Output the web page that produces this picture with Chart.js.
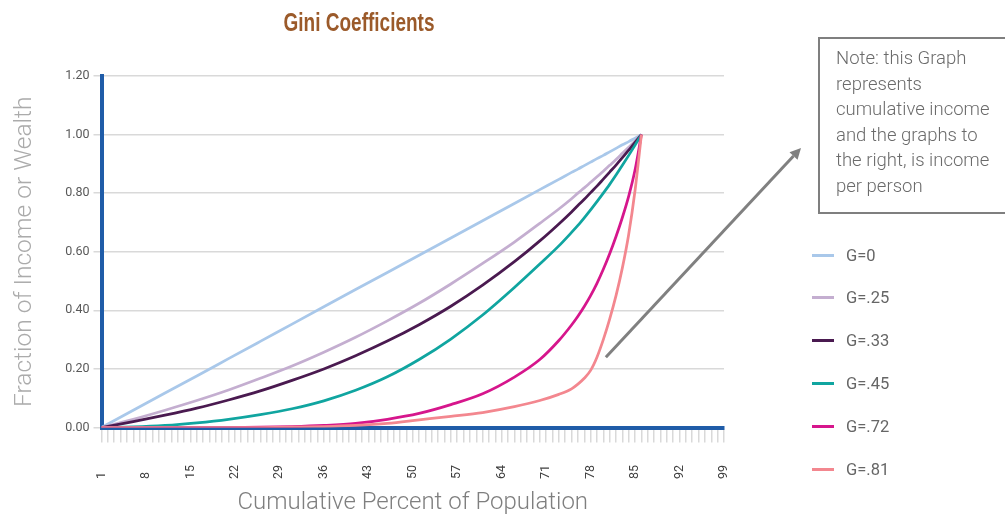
<!DOCTYPE html>
<html>
<head>
<meta charset="utf-8">
<title>Gini Coefficients</title>
<script src="https://cdn.jsdelivr.net/npm/chart.js@4.4.1/dist/chart.umd.min.js"></script>
<style>
  body { margin: 0; background: #fff; }
  #wrap { position: relative; width: 1005px; height: 517px; overflow: hidden; font-family: Roboto, sans-serif; }
  #title { position: absolute; left: 259px; width: 200px; top: 8px; text-align: center; font: bold 25px 'Liberation Sans Narrow', 'Liberation Sans', sans-serif; line-height: 28px; color: #9b5a2a; transform: scaleX(0.76); transform-origin: center; white-space: nowrap; }
  #note { position: absolute; left: 818px; top: 37px; width: 210px; height: 177px; box-sizing: border-box; border: 2px solid #7f7f7f; padding: 7px 0 0 16px; font-weight: 300; font-size: 18.5px; line-height: 25.6px; color: #6b6b6b; white-space: nowrap; }
  #legend { position: absolute; left: 812px; top: 0; }
  .item { position: absolute; left: 0; height: 20px; display: flex; align-items: center; white-space: nowrap; font-size: 16.5px; color: #666; }
  .swatch { width: 22px; height: 3px; margin-right: 12px; }
</style>
</head>
<body>
<div id="wrap">
  <canvas id="gini" width="1005" height="517"></canvas>
  <div id="title">Gini Coefficients</div>
  <div id="note">Note: this Graph<br>represents<br>cumulative income<br>and the graphs to<br>the right, is income<br>per person</div>
  <div id="legend"></div>
</div>
<script>
// x axis: cumulative percent of population, 1..99
const categories = Array.from({ length: 99 }, (_, i) => String(i + 1));
const shownTicks = ['1', '8', '15', '22', '29', '36', '43', '50', '57', '64', '71', '78', '85', '92', '99'];

// points (x = category)
const samplePoints = [1, 6, 11, 16, 21, 26, 31, 36, 41, 46, 51, 56, 61, 66, 70, 73, 75, 76, 77, 78, 79, 80, 81, 82, 83, 84, 85, 86];

const g0  = [0, 0.059, 0.118, 0.176, 0.235, 0.294, 0.353, 0.412, 0.471, 0.529, 0.588, 0.647, 0.706, 0.765, 0.812, 0.847, 0.871, 0.882, 0.894, 0.906, 0.918, 0.929, 0.941, 0.953, 0.965, 0.976, 0.988, 1];
const g25 = [0, 0.028, 0.059, 0.092, 0.128, 0.168, 0.21, 0.257, 0.308, 0.364, 0.424, 0.49, 0.56, 0.633, 0.697, 0.746, 0.781, 0.8, 0.818, 0.837, 0.856, 0.875, 0.895, 0.915, 0.936, 0.957, 0.978, 1];
const g33 = [0, 0.02, 0.042, 0.066, 0.094, 0.125, 0.161, 0.2, 0.245, 0.295, 0.351, 0.414, 0.486, 0.566, 0.637, 0.695, 0.736, 0.758, 0.779, 0.802, 0.824, 0.848, 0.872, 0.896, 0.921, 0.947, 0.973, 1];
const g45 = [0, 0.002, 0.007, 0.016, 0.028, 0.044, 0.064, 0.091, 0.127, 0.173, 0.232, 0.302, 0.384, 0.478, 0.558, 0.62, 0.666, 0.69, 0.716, 0.743, 0.771, 0.8, 0.83, 0.862, 0.895, 0.929, 0.964, 1];
const g72 = [0, 0, 0, 0, 0, 0.001, 0.003, 0.007, 0.014, 0.028, 0.048, 0.078, 0.115, 0.172, 0.232, 0.297, 0.35, 0.38, 0.413, 0.45, 0.492, 0.54, 0.593, 0.652, 0.717, 0.79, 0.88, 1];
const g81 = [0, 0, 0, 0, 0, 0, 0.001, 0.003, 0.007, 0.014, 0.026, 0.038, 0.051, 0.071, 0.092, 0.113, 0.132, 0.148, 0.168, 0.195, 0.24, 0.3, 0.37, 0.45, 0.545, 0.66, 0.81, 1];

const seriesNames  = ['G=0', 'G=.25', 'G=.33', 'G=.45', 'G=.72', 'G=.81'];
const seriesValues = [g0, g25, g33, g45, g72, g81];
const seriesColors = ['#a9c8ea', '#c4aed0', '#4a1a50', '#10a5a0', '#d6168c', '#f3878f'];

const axisBlue = '#1f5ca8';
const gridGray = '#d9d9d9';

// arrow from the G=.81 curve up to the note box
const arrowFrom = [79.4, 0.24];   // [category index, value]
const arrowTip = [801, 148];      // canvas pixels, next to the note

const arrowPlugin = {
  id: 'noteArrow',
  afterDatasetsDraw(chart) {
    const { ctx, scales } = chart;
    const x0 = scales.x.getPixelForValue(arrowFrom[0]);
    const y0 = scales.y.getPixelForValue(arrowFrom[1]);
    const [x1, y1] = arrowTip;
    const ang = Math.atan2(y1 - y0, x1 - x0);
    const headLen = 11, headHalf = 5.5;
    const bx = x1 - headLen * Math.cos(ang), by = y1 - headLen * Math.sin(ang);
    ctx.save();
    ctx.strokeStyle = '#808080';
    ctx.fillStyle = '#808080';
    ctx.lineWidth = 3;
    ctx.beginPath();
    ctx.moveTo(x0, y0);
    ctx.lineTo(bx, by);
    ctx.stroke();
    ctx.beginPath();
    ctx.moveTo(x1, y1);
    ctx.lineTo(bx + headHalf * Math.sin(ang), by - headHalf * Math.cos(ang));
    ctx.lineTo(bx - headHalf * Math.sin(ang), by + headHalf * Math.cos(ang));
    ctx.closePath();
    ctx.fill();
    ctx.restore();
  }
};

new Chart(document.getElementById('gini'), {
  type: 'line',
  data: {
    labels: categories,
    datasets: seriesNames.map((name, i) => ({
      label: name,
      data: samplePoints.map((x, j) => ({ x: String(x), y: seriesValues[i][j] })),
      borderColor: seriesColors[i],
      backgroundColor: seriesColors[i],
      borderWidth: 2.75,
      pointRadius: 0,
      cubicInterpolationMode: 'monotone',
      fill: false,
      order: seriesNames.length - i   // later series drawn on top
    }))
  },
  options: {
    responsive: false,
    animation: false,
    layout: { padding: { top: 76, right: 281, bottom: 0, left: 0 } },
    plugins: {
      legend: { display: false },
      title: { display: false },
      tooltip: { enabled: false }
    },
    scales: {
      x: {
        type: 'category',
        offset: false,
        afterFit: scale => { scale.height = 89.5; },
        border: { color: axisBlue, width: 4 },
        grid: { drawOnChartArea: false, drawTicks: true, tickLength: 15, color: gridGray, lineWidth: 1.5 },
        ticks: {
          autoSkip: false,
          maxRotation: 90,
          minRotation: 90,
          padding: 22.5,
          color: '#404040',
          font: { family: 'Roboto', size: 12.5 },
          // pad single digits so every label starts at the same baseline
          callback: (v, i) => shownTicks.includes(categories[i]) ? categories[i].padEnd(2, '\u2007') : ''
        },
        title: {
          display: true,
          text: 'Cumulative Percent of Population',
          color: '#7f7f7f',
          font: { family: 'Roboto', size: 24, weight: 300 },
          padding: { top: 4, bottom: 0 }
        }
      },
      y: {
        min: 0,
        max: 1.2,
        afterFit: scale => { scale.width = 101.5; },
        border: { color: axisBlue, width: 4 },
        grid: { color: gridGray, lineWidth: 1.5, tickLength: 8 },
        ticks: {
          stepSize: 0.2,
          padding: 4,
          color: '#595959',
          font: { family: 'Roboto', size: 12.5 },
          callback: v => Number(v).toFixed(2)
        },
        title: {
          display: true,
          text: 'Fraction of Income or Wealth',
          color: '#ababab',
          font: { family: 'Roboto', size: 24.5, weight: 300 },
          padding: { top: 10, bottom: 4 }
        }
      }
    }
  },
  plugins: [arrowPlugin]
});

// legend on the right, same names and colours as the datasets
const legendTop = 245, legendGap = 42.8;
const legendEl = document.getElementById('legend');
seriesNames.forEach((name, i) => {
  const row = document.createElement('div');
  row.className = 'item';
  row.style.top = (legendTop + i * legendGap) + 'px';
  const sw = document.createElement('span');
  sw.className = 'swatch';
  sw.style.background = seriesColors[i];
  const txt = document.createElement('span');
  txt.textContent = name;
  row.appendChild(sw);
  row.appendChild(txt);
  legendEl.appendChild(row);
});
</script>
</body>
</html>
